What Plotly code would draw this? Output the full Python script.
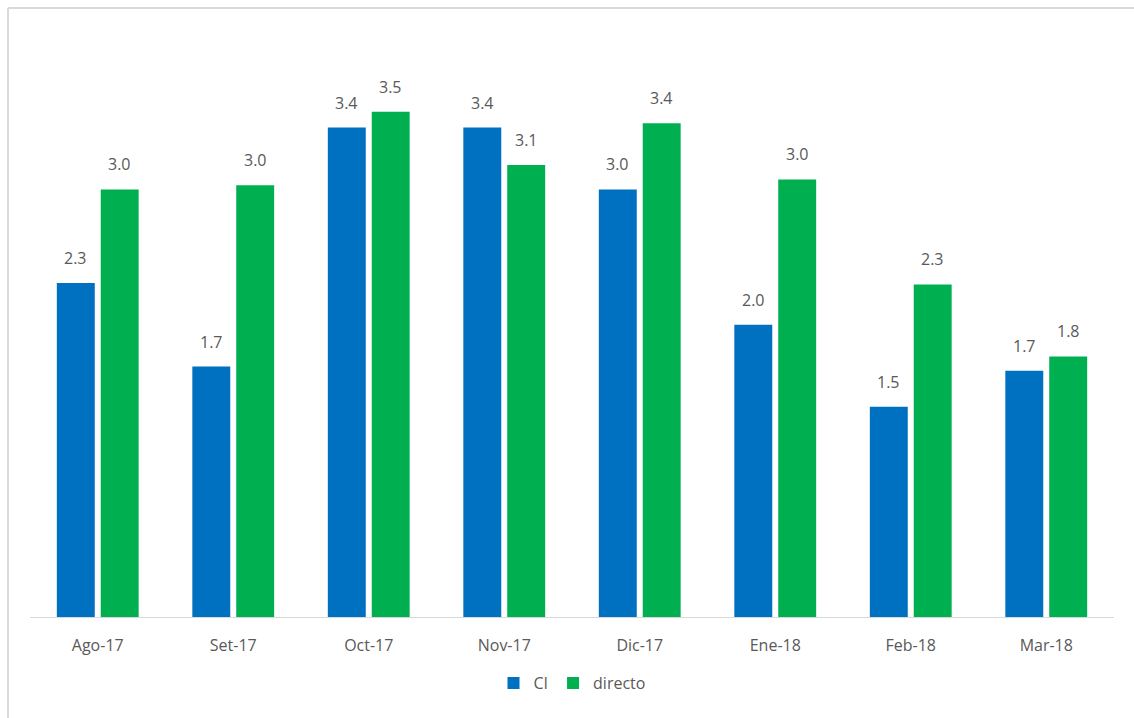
import plotly.graph_objects as go

# Monthly values for the two series
months = ["Ago-17", "Set-17", "Oct-17", "Nov-17", "Dic-17", "Ene-18", "Feb-18", "Mar-18"]
ci_values = [2.32, 1.74, 3.40, 3.40, 2.97, 2.03, 1.46, 1.71]
directo_values = [2.97, 3.00, 3.51, 3.14, 3.43, 3.04, 2.31, 1.81]

BLUE = "#0070C0"
GREEN = "#00B050"
TEXT = "#595959"
FONT = "Open Sans, Liberation Sans, sans-serif"

series = [("CI", ci_values, BLUE), ("directo", directo_values, GREEN)]

fig = go.Figure()
for i, (name, vals, color) in enumerate(series):
    fig.add_trace(go.Bar(
        name=name,
        x=months,
        y=vals,
        offsetgroup=str(i),
        marker=dict(color=color, line=dict(width=0)),
    ))

W, H = 1134, 718
L, R, T, B = 30, 20, 70, 101
plot_w = W - L - R
plot_h = H - T - B

BARGAP = 0.352
GROUPGAP = 0.136

# Value labels above each bar, positioned at the bar's category slot
slot = (1 - BARGAP) / 2
for i, (name, vals, color) in enumerate(series):
    offset = (i - 0.5) * slot
    for k, v in enumerate(vals):
        fig.add_annotation(
            x=k + offset, y=v, xref="x", yref="y",
            text=f"{v:.1f}", showarrow=False,
            yanchor="bottom", yshift=12,
            font=dict(family=FONT, size=16, color=TEXT),
        )

# Light frame along the top and left edges of the chart area
fx0 = (8 - L) / plot_w
fy1 = (H - B - 8) / plot_h
fig.add_shape(type="line", xref="paper", yref="paper",
              x0=fx0, x1=(W + 10 - L) / plot_w, y0=fy1, y1=fy1,
              line=dict(color="#D9D9D9", width=2))
fig.add_shape(type="line", xref="paper", yref="paper",
              x0=fx0, x1=fx0, y0=fy1, y1=-(B + 10) / plot_h,
              line=dict(color="#D9D9D9", width=2))

fig.update_layout(
    width=W, height=H,
    margin=dict(l=L, r=R, t=T, b=B),
    paper_bgcolor="white",
    plot_bgcolor="white",
    barmode="group",
    bargap=BARGAP,
    bargroupgap=GROUPGAP,
    font=dict(family=FONT, size=16, color=TEXT),
    showlegend=True,
    legend=dict(
        orientation="h",
        x=0.5, xanchor="center",
        y=-(683 - (H - B)) / plot_h, yanchor="middle",
        font=dict(family=FONT, size=16, color=TEXT),
        itemwidth=30,
        traceorder="normal",
    ),
    xaxis=dict(
        range=[-0.5, len(months) - 0.5],
        showline=True, linecolor="#D9D9D9", linewidth=1,
        ticks="", tickfont=dict(family=FONT, size=16, color=TEXT),
        ticklabelstandoff=14,
        showgrid=False,
    ),
    yaxis=dict(
        range=[0, 3.8], visible=False, showgrid=False, zeroline=False,
    ),
)

fig.write_html("out.html")
